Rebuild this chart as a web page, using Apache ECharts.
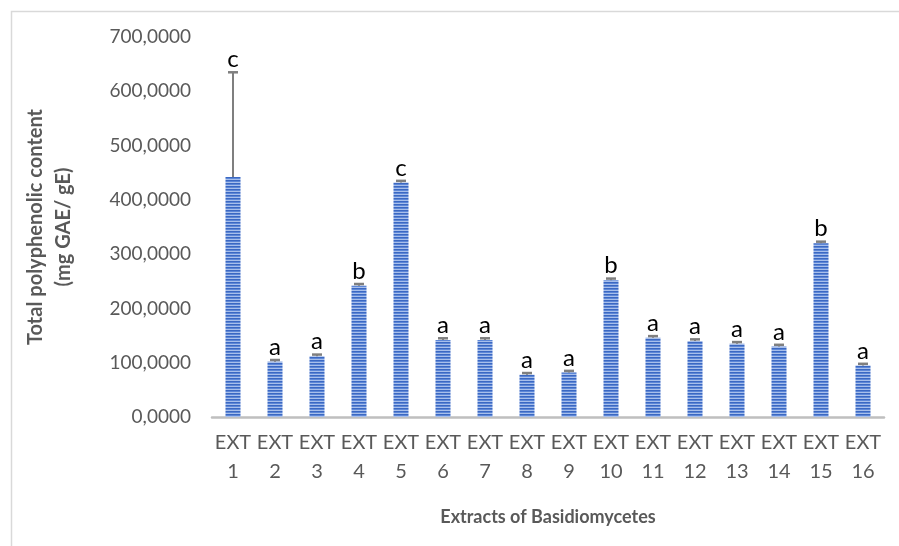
<!DOCTYPE html>
<html>
<head>
<meta charset="utf-8">
<script src="https://cdn.jsdelivr.net/npm/echarts@6/dist/echarts.min.js"></script>
<style>
html,body{margin:0;padding:0;background:#fff;}
#chart{width:899px;height:546px;}
</style>
</head>
<body>
<div id="chart"></div>
<script>
var categories = ['EXT\n1','EXT\n2','EXT\n3','EXT\n4','EXT\n5','EXT\n6','EXT\n7','EXT\n8','EXT\n9','EXT\n10','EXT\n11','EXT\n12','EXT\n13','EXT\n14','EXT\n15','EXT\n16'];
var values = [442, 102, 112, 242, 432, 142, 142, 78, 82, 252, 146, 140, 135, 130, 320, 95];
var errors = [193, 3, 3, 3, 3, 3, 3, 3, 3, 3, 3, 3, 3, 3, 3, 3];
var letters = ['c','a','a','b','c','a','a','a','a','b','a','a','a','a','b','a'];
var yTicks = [0, 100, 200, 300, 400, 500, 600, 700];

var cv = document.createElement('canvas');
cv.width = 4; cv.height = 3;
var cx = cv.getContext('2d');
var rows = ['#3b68c2', '#5d87d7', '#a8bfeb'];
for (var i = 0; i < 3; i++) { cx.fillStyle = rows[i]; cx.fillRect(0, i, 4, 1); }

var chart = echarts.init(document.getElementById('chart'));
var errData = values.map(function(v, i){ return [i, v, errors[i], letters[i]]; });

chart.setOption({
  animation: false,
  backgroundColor: '#fff',
  textStyle: { fontFamily: 'Lato' },
  graphic: [{
    type: 'rect', left: 9, top: 9,
    shape: { width: 1000, height: 1000 },
    style: { fill: 'none', stroke: '#d9d9d9', lineWidth: 1.5 },
    silent: true
  }],
  grid: { left: 212, right: 15, top: 37, bottom: 129, containLabel: false },
  xAxis: {
    type: 'category',
    data: categories,
    name: 'Extracts of Basidiomycetes',
    nameLocation: 'middle',
    nameGap: 91,
    nameTextStyle: { fontFamily: 'Lato', fontSize: 18, fontWeight: 'bold', color: '#595959' },
    axisLine: { lineStyle: { color: '#bfbfbf', width: 2.5 } },
    axisTick: { show: false },
    axisLabel: { fontFamily: 'Lato', fontSize: 20, color: '#595959', lineHeight: 29, margin: 11, interval: 0 }
  },
  yAxis: {
    type: 'value',
    min: 0, max: 700, interval: 100,
    name: 'Total polyphenolic content\n(mg GAE/ gE)',
    nameLocation: 'middle',
    nameGap: 134,
    nameRotate: 90,
    nameTextStyle: { fontFamily: 'Lato', fontSize: 20, fontWeight: 'bold', color: '#595959', lineHeight: 28 },
    axisLine: { show: false },
    axisTick: { show: false },
    splitLine: { show: false },
    axisLabel: {
      fontFamily: 'Lato', fontSize: 19, color: '#595959', margin: 21,
      formatter: function(v){ return yTicks.indexOf(v) >= 0 ? v.toFixed(4).replace('.', ',') : ''; }
    }
  },
  series: [{
    type: 'bar',
    data: values,
    barWidth: 15,
    itemStyle: { color: { image: cv, repeat: 'repeat' } },
    z: 2
  }, {
    type: 'custom',
    data: errData,
    z: 5,
    renderItem: function(params, api){
      var x = api.value(0), v = api.value(1), e = api.value(2);
      var pTop = api.coord([x, v + e]);
      var pBar = api.coord([x, v]);
      var half = 5;
      var children = [];
      children.push({ type: 'line', shape: { x1: pTop[0], y1: pTop[1], x2: pBar[0], y2: pBar[1] }, style: { stroke: '#7f7f7f', lineWidth: 2 } });
      children.push({ type: 'line', shape: { x1: pTop[0]-half, y1: pTop[1], x2: pTop[0]+half, y2: pTop[1] }, style: { stroke: '#7f7f7f', lineWidth: 2.5 } });
      children.push({ type: 'text', style: { text: letters[params.dataIndex], x: pTop[0], y: pTop[1] - 1, align: 'center', verticalAlign: 'bottom', fill: '#000', font: '24px Lato' } });
      return { type: 'group', children: children };
    }
  }]
});
</script>
</body>
</html>
